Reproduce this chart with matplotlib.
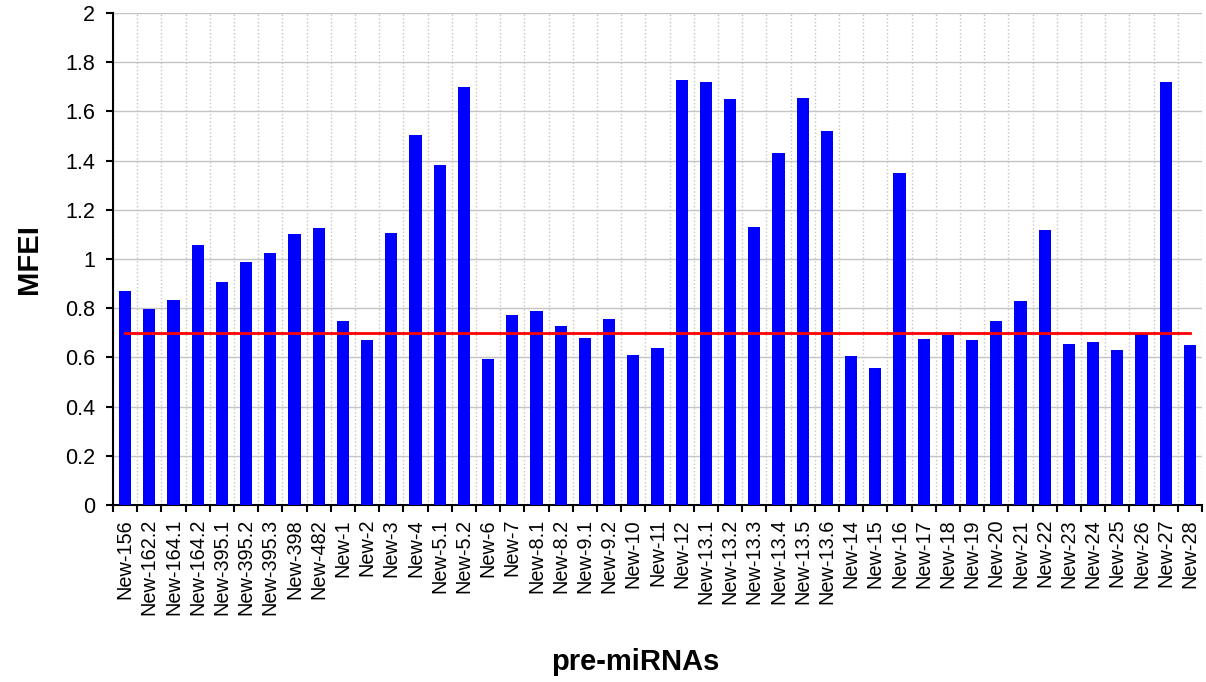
import matplotlib
matplotlib.use("Agg")
import matplotlib.pyplot as plt
import numpy as np

plt.rcParams['font.family'] = ['Liberation Sans', 'DejaVu Sans']

names = ["New-156", "New-162.2", "New-164.1", "New-164.2", "New-395.1", "New-395.2",
         "New-395.3", "New-398", "New-482", "New-1", "New-2", "New-3", "New-4",
         "New-5.1", "New-5.2", "New-6", "New-7", "New-8.1", "New-8.2", "New-9.1",
         "New-9.2", "New-10", "New-11", "New-12", "New-13.1", "New-13.2", "New-13.3",
         "New-13.4", "New-13.5", "New-13.6", "New-14", "New-15", "New-16", "New-17",
         "New-18", "New-19", "New-20", "New-21", "New-22", "New-23", "New-24",
         "New-25", "New-26", "New-27", "New-28"]
mfei = [0.871, 0.795, 0.833, 1.056, 0.905, 0.988, 1.023, 1.103, 1.126, 0.749,
        0.669, 1.106, 1.503, 1.381, 1.698, 0.593, 0.774, 0.787, 0.728, 0.679,
        0.755, 0.610, 0.640, 1.726, 1.718, 1.649, 1.129, 1.431, 1.654, 1.519,
        0.606, 0.556, 1.351, 0.676, 0.692, 0.672, 0.748, 0.829, 1.118, 0.656,
        0.661, 0.630, 0.698, 1.721, 0.652]
threshold = 0.7

fig = plt.figure(figsize=(12.06, 6.82), dpi=100)
ax = fig.add_axes([0.0937, 0.2595, 0.903, 0.7215])

x = np.arange(len(names))
ax.bar(x, mfei, width=0.5, color="#0000ff", zorder=3)
ax.plot([x[0], x[-1]], [threshold, threshold], color="#ff0000", linewidth=2, zorder=4)

ax.set_xlim(-0.5, len(names) - 0.5)
ax.set_ylim(0, 2)
yt = np.arange(0, 2.01, 0.2)
ax.set_yticks(yt)
ax.set_yticklabels(["%g" % round(v, 1) for v in yt])

# labels at bar centres, ticks and dotted grid at the boundaries
ax.set_xticks(x)
ax.set_xticklabels(names, rotation=90, fontsize=14.3)
ax.set_xticks(np.arange(-0.5, len(names), 1), minor=True)
ax.tick_params(axis='x', which='major', length=0, pad=10)
ax.tick_params(axis='x', which='minor', length=5, width=1.5, direction='out')
ax.tick_params(axis='y', length=5, width=1.5, direction='out', labelsize=15.5, pad=8)

ax.grid(True, axis='y', which='major', color="#c4c4c4", linewidth=1, zorder=0)
ax.grid(True, axis='x', which='minor', color="#c4c4c4", linestyle=':', linewidth=1, zorder=0)

for s in ["top", "right"]:
    ax.spines[s].set_visible(False)
ax.spines["left"].set_linewidth(1.5)
ax.spines["bottom"].set_linewidth(1.5)

ax.set_ylabel("MFEI", fontsize=21, fontweight="bold", labelpad=16)
fig.text(0.527, 0.03, "pre-miRNAs", fontsize=21, fontweight="bold", ha="center", va="center")

plt.savefig("out.png", dpi=100)
